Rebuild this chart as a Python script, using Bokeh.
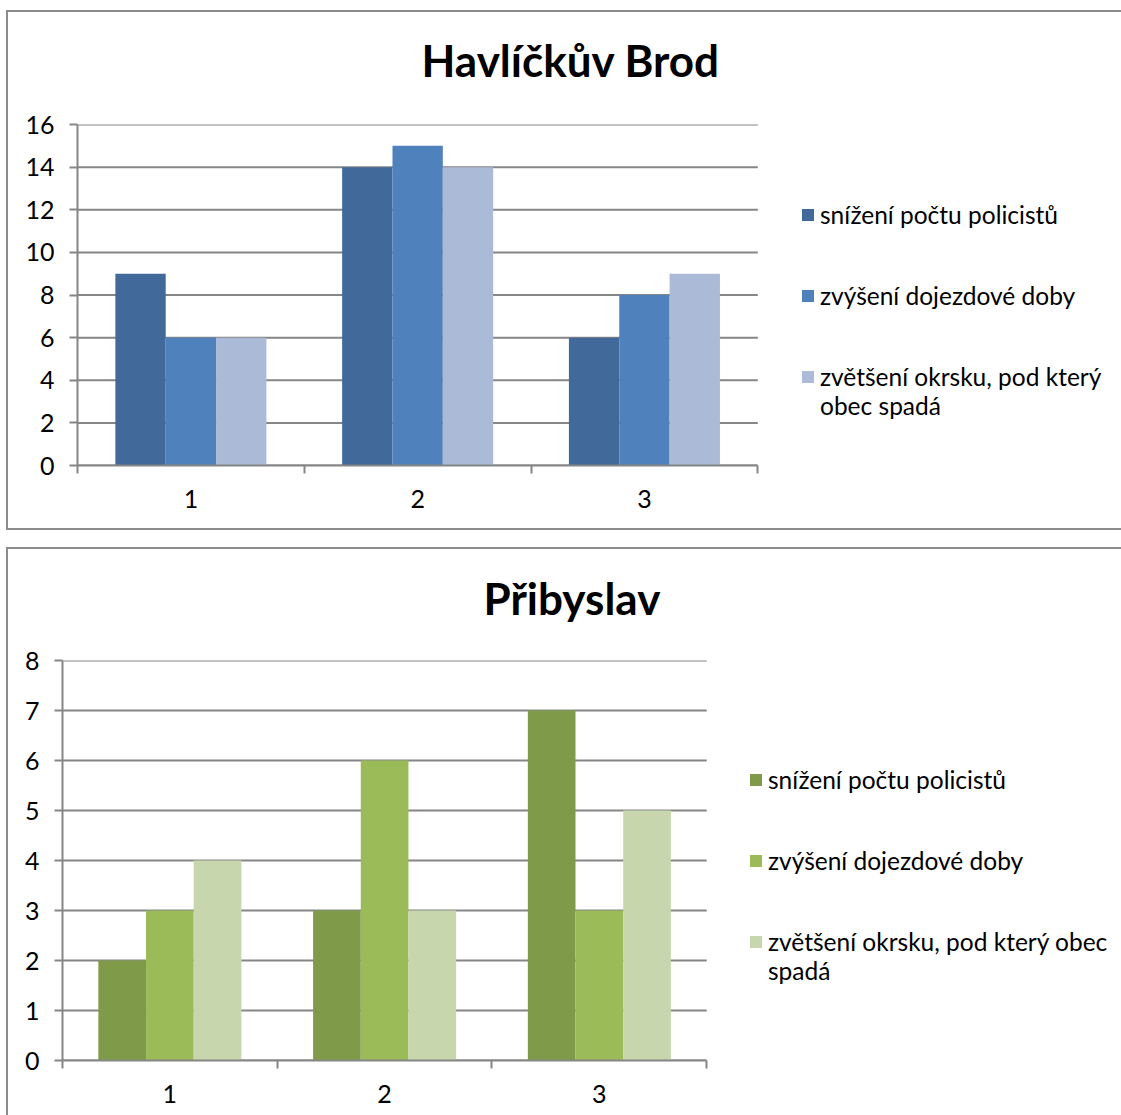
from bokeh.plotting import figure
from bokeh.models import Range1d, FixedTicker, Legend, LegendItem, Title
from bokeh.layouts import column, row
from bokeh.embed import file_html
from bokeh.resources import INLINE
import numpy as np

categories = [1, 2, 3]
category_labels = ["1", "2", "3"]

hb_title = "Havlíčkův Brod"
hb_labels = ["snížení počtu policistů", "zvýšení dojezdové doby",
             "zvětšení okrsku, pod který\nobec spadá"]
hb_reduction = [9, 14, 6]
hb_time = [6, 15, 8]
hb_district = [6, 14, 9]
hb_yticks = [0, 2, 4, 6, 8, 10, 12, 14, 16]
hb_colors = ["#416A9B", "#4F81BD", "#AABAD7"]

pr_title = "Přibyslav"
pr_labels = ["snížení počtu policistů", "zvýšení dojezdové doby",
             "zvětšení okrsku, pod který obec\nspadá"]
pr_reduction = [2, 3, 7]
pr_time = [3, 6, 3]
pr_district = [4, 3, 5]
pr_yticks = [0, 1, 2, 3, 4, 5, 6, 7, 8]
pr_colors = ["#7F9B4A", "#9BBB59", "#C7D6AC"]

FONT = "Lato"
GRAY = "#868686"
BORDER = "2px solid #8c8c8c"


def make_legend(items, loc, spacing):
    return Legend(items=items, location=loc, padding=0, margin=0,
                  spacing=spacing, glyph_width=15, glyph_height=15,
                  label_standoff=5, label_height=26,
                  label_text_font=FONT, label_text_font_size="24.5px",
                  label_text_color="black", border_line_color=None,
                  background_fill_alpha=0)


def make_chart(title, series, labels, colors, yticks, plot_px, frame_w, frame_h,
               mb_left, mb_right, mb_top, mb_bottom, title_offset, title_standoff,
               gap_standoff, legend_x, legend_y, legend_spacing, margin,
               bottom_border=True):
    cat_px = plot_px / len(categories)
    x0 = categories[0] - 0.5
    p = figure(frame_width=frame_w, frame_height=frame_h, output_backend="svg",
               toolbar_location=None, tools="",
               x_range=Range1d(x0, x0 + frame_w / cat_px),
               y_range=Range1d(yticks[0], yticks[-1]),
               min_border_left=mb_left, min_border_right=mb_right,
               min_border_top=mb_top, min_border_bottom=mb_bottom)
    p.title = None
    # thin spacer between the chart title and the plot area
    p.add_layout(Title(text=" ", text_font_size="1px", standoff=gap_standoff), "above")
    p.add_layout(Title(text=title, align="left", vertical_align="top",
                       offset=title_offset, standoff=title_standoff,
                       text_font=FONT, text_font_style="bold",
                       text_font_size="44px", text_color="black"), "above")
    p.outline_line_color = None

    bounds = [c - 0.5 for c in categories] + [categories[-1] + 0.5]

    # horizontal gridlines, limited to the category area
    p.segment(x0=[bounds[0]] * len(yticks), x1=[bounds[-1]] * len(yticks),
              y0=yticks, y1=yticks, line_color=GRAY, line_width=2)

    bw = 0.222
    offsets = [-bw, 0.0, bw]
    renderers = []
    for vals, off, col in zip(series, offsets, colors):
        xs = np.array(categories, dtype=float) + off
        r = p.vbar(x=xs, top=vals, width=bw, bottom=0, fill_color=col,
                   line_color=None)
        renderers.append(r)
    # empty, invisible renderer used for the wrapped continuation line of the legend
    blank = p.vbar(x=[], top=[], width=bw, fill_alpha=0, line_alpha=0)

    p.xaxis.ticker = FixedTicker(ticks=categories, minor_ticks=bounds)
    p.xaxis.bounds = (bounds[0], bounds[-1])
    p.xaxis.major_label_overrides = {c: l for c, l in zip(categories, category_labels)}
    p.xaxis.major_tick_line_color = None
    p.xaxis.minor_tick_line_color = GRAY
    p.xaxis.minor_tick_line_width = 2
    p.xaxis.minor_tick_out = 8
    p.xaxis.minor_tick_in = 0
    p.xaxis.major_label_standoff = 16

    p.yaxis.ticker = FixedTicker(ticks=yticks)
    p.yaxis.major_tick_out = 8
    p.yaxis.major_tick_in = 0
    p.yaxis.minor_tick_line_color = None
    p.yaxis.major_tick_line_color = GRAY
    p.yaxis.major_tick_line_width = 2
    p.yaxis.major_label_standoff = 15

    for ax in (p.xaxis, p.yaxis):
        ax.axis_line_color = GRAY
        ax.axis_line_width = 2
        ax.major_label_text_font = FONT
        ax.major_label_text_font_size = "25px"
        ax.major_label_text_color = "black"

    p.xgrid.visible = False
    p.ygrid.visible = False

    first_lines = [l.split("\n")[0] for l in labels]
    continuation = labels[-1].split("\n")[1]
    items = [LegendItem(label=l, renderers=[r]) for l, r in zip(first_lines, renderers)]
    p.add_layout(make_legend(items, (legend_x, legend_y + 29), legend_spacing), "center")
    p.add_layout(make_legend([LegendItem(label=continuation, renderers=[blank])],
                             (legend_x, legend_y), legend_spacing), "center")

    st = {"border-left": BORDER, "border-top": BORDER}
    if bottom_border:
        st["border-bottom"] = BORDER
    p.styles = st
    p.margin = margin
    return p


top = make_chart(hb_title, [hb_reduction, hb_time, hb_district], hb_labels, hb_colors,
                 hb_yticks, plot_px=679, frame_w=1040, frame_h=337,
                 mb_left=69, mb_right=4, mb_top=112, mb_bottom=67,
                 title_offset=344, title_standoff=40, gap_standoff=14,
                 legend_x=723, legend_y=45, legend_spacing=52,
                 margin=(10, 0, 0, 6))

bottom = make_chart(pr_title, [pr_reduction, pr_time, pr_district], pr_labels, pr_colors,
                    pr_yticks, plot_px=643, frame_w=1055, frame_h=398,
                    mb_left=54, mb_right=4, mb_top=111, mb_bottom=59,
                    title_offset=421, title_standoff=42, gap_standoff=11,
                    legend_x=686, legend_y=75, legend_spacing=52,
                    margin=(17, 0, 0, 6), bottom_border=False)

layout = column(row(top), row(bottom))

open("out.html", "w").write(file_html(layout, INLINE))
